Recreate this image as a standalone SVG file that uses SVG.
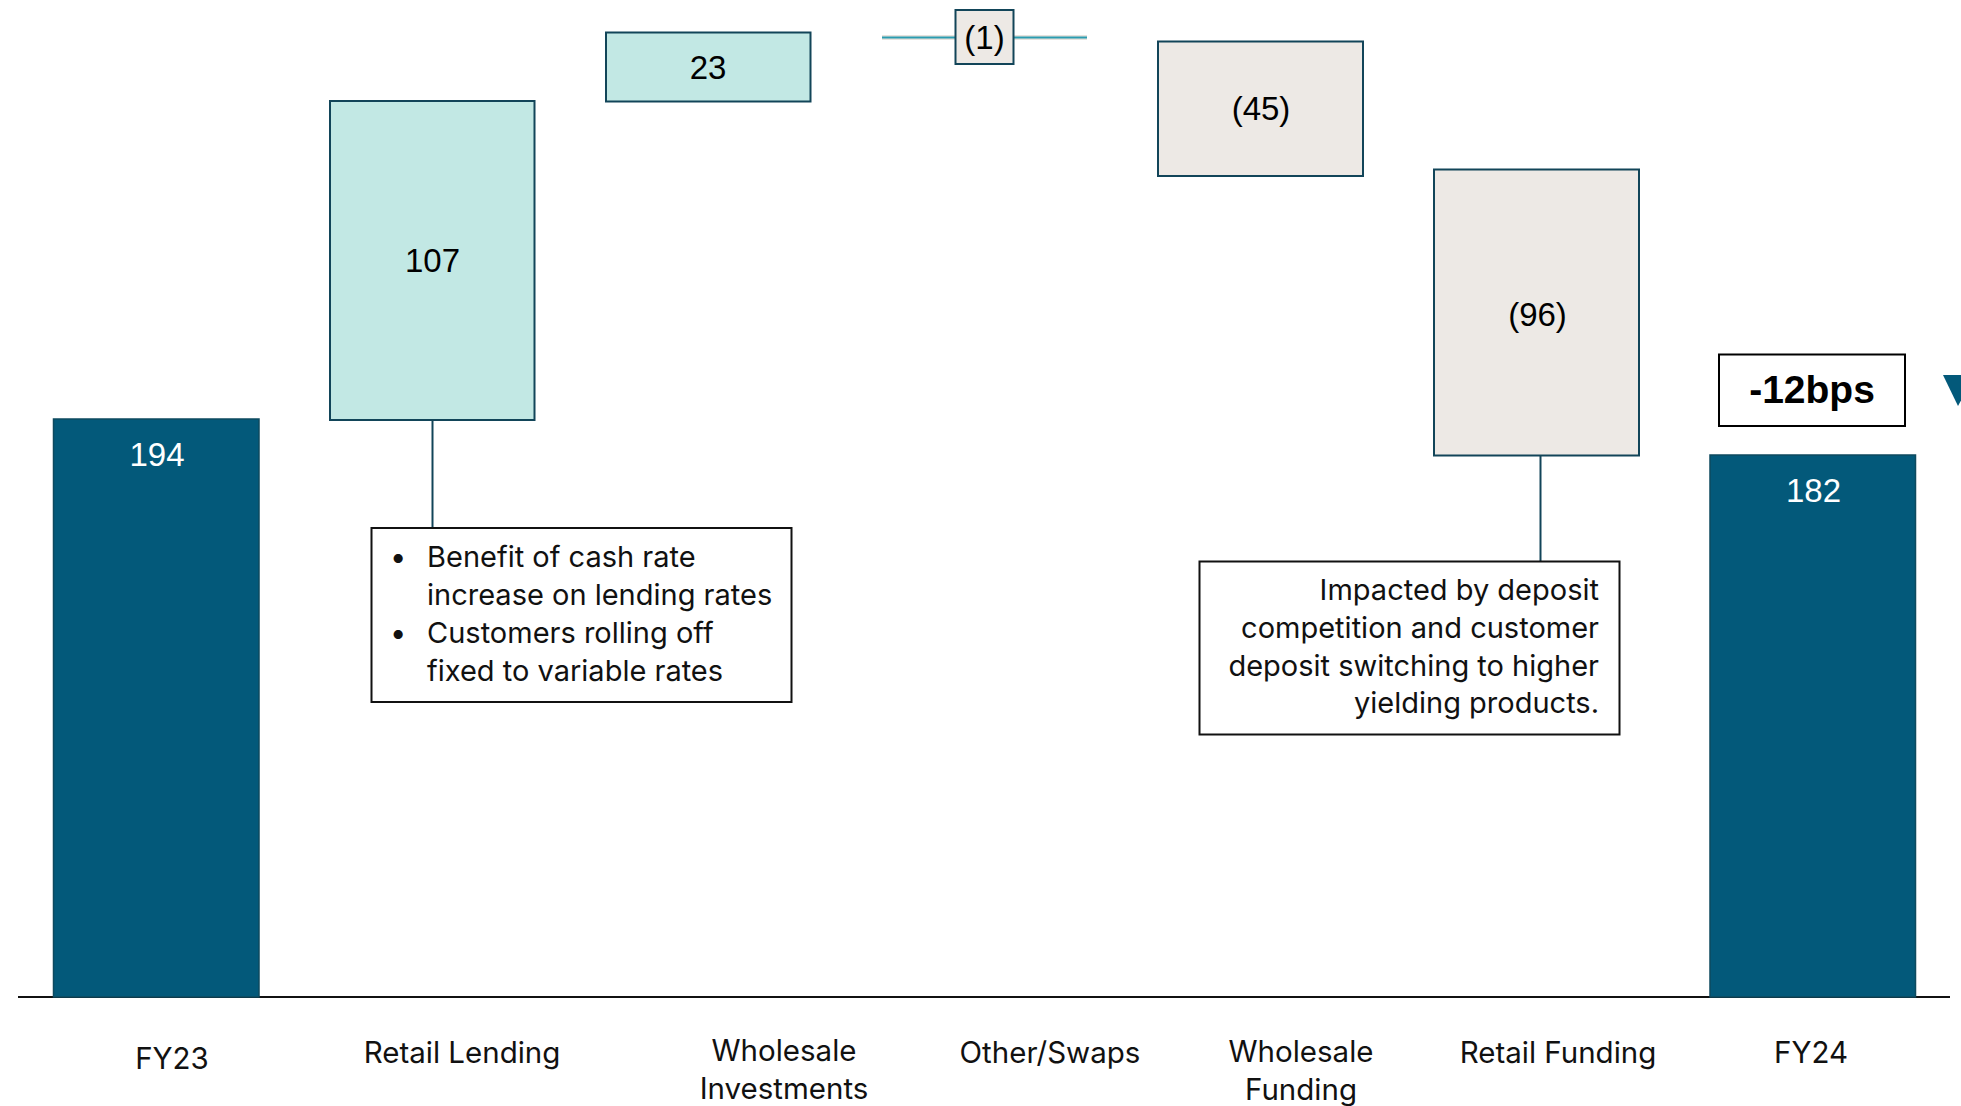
<svg xmlns="http://www.w3.org/2000/svg" width="1961" height="1106" viewBox="0 0 1961 1106">
  <style>
    .total { fill: #03597a; stroke: #0e4a5f; stroke-width: 1.5; }
    .up { fill: #c2e8e4; stroke: #124559; stroke-width: 2; }
    .down { fill: #ede9e5; stroke: #124559; stroke-width: 2; }
    .val { font-family: "Liberation Sans", Arial, sans-serif; font-size: 33px; fill: #000; text-anchor: middle; }
    .val-w { fill: #ffffff; }
    .note { fill: #ffffff; stroke: #111; stroke-width: 2; }
    .txt { font-family: Inter, "Open Sans", sans-serif; font-size: 29px; fill: #111; }
    .axis-lbl { font-family: Inter, "Open Sans", sans-serif; font-size: 29.5px; fill: #111; text-anchor: middle; }
    .lead { stroke: #124559; stroke-width: 2; fill: none; }
    .swap-halo { stroke: #e6e2dd; stroke-width: 5; fill: none; }
    .swap-line { stroke: #2b9cb0; stroke-width: 2; fill: none; }
    .badge { fill: #ffffff; stroke: #000; stroke-width: 2; }
    .badge-txt { font-family: "Liberation Sans", Arial, sans-serif; font-size: 39px; font-weight: bold; fill: #000; text-anchor: middle; }
  </style>

  <rect width="1961" height="1106" fill="#ffffff"/>

  <!-- connectors: leader lines, swap whiskers, baseline -->
  <g id="connectors">
    <line class="swap-halo" x1="882" y1="37.5" x2="956" y2="37.5"/>
    <line class="swap-line" x1="882" y1="37.5" x2="956" y2="37.5"/>
    <line class="swap-halo" x1="1013" y1="37.5" x2="1087" y2="37.5"/>
    <line class="swap-line" x1="1013" y1="37.5" x2="1087" y2="37.5"/>
    <line class="lead" x1="432.5" y1="420" x2="432.5" y2="528"/>
    <line class="lead" x1="1540.5" y1="452" x2="1540.5" y2="561"/>
    <line x1="18" y1="997" x2="1950" y2="997" stroke="#111" stroke-width="2"/>
  </g>

  <!-- starting total -->
  <g id="fy23">
    <rect class="total" x="53.5" y="419" width="205.5" height="578"/>
    <text class="val val-w" x="157" y="466">194</text>
  </g>

  <!-- positive movements -->
  <g id="retail-lending">
    <rect class="up" x="330" y="101" width="204.5" height="319"/>
    <text class="val" x="432.5" y="272">107</text>
  </g>
  <g id="wholesale-investments">
    <rect class="up" x="606" y="32.5" width="204.5" height="69"/>
    <text class="val" x="708" y="78.5">23</text>
  </g>

  <!-- negative movements -->
  <g id="other-swaps">
    <rect class="down" x="955.5" y="10" width="58" height="54"/>
    <text class="val" x="984.5" y="48.5">(1)</text>
  </g>
  <g id="wholesale-funding">
    <rect class="down" x="1158" y="41.5" width="205" height="134.5"/>
    <text class="val" x="1261" y="119.5">(45)</text>
  </g>
  <g id="retail-funding">
    <rect class="down" x="1434" y="169.5" width="205" height="286"/>
    <text class="val" x="1537.5" y="325.5">(96)</text>
  </g>

  <!-- closing total -->
  <g id="fy24">
    <rect class="total" x="1710" y="455" width="205.5" height="542"/>
    <text class="val val-w" x="1813.5" y="501.5">182</text>
  </g>

  <!-- change badge -->
  <g id="change-badge">
    <rect class="badge" x="1719" y="354.5" width="186" height="71.5"/>
    <text class="badge-txt" x="1812" y="403">-12bps</text>
    <polygon points="1943,375 1975,375 1958,406" fill="#03597a"/>
  </g>

  <!-- commentary boxes -->
  <g id="note-lending">
    <rect class="note" x="371.5" y="528" width="420" height="174"/>
    <text class="txt"><tspan x="390" y="567">•</tspan><tspan x="427" y="567">Benefit of cash rate</tspan><tspan x="427" y="605">increase on lending rates</tspan><tspan x="390" y="643">•</tspan><tspan x="427" y="643">Customers rolling off</tspan><tspan x="427" y="680.5">fixed to variable rates</tspan></text>
  </g>
  <g id="note-funding">
    <rect class="note" x="1199.5" y="561.5" width="420" height="173"/>
    <text class="txt" text-anchor="end"><tspan x="1599" y="599.5">Impacted by deposit</tspan><tspan x="1599" y="637.5">competition and customer</tspan><tspan x="1599" y="675.5">deposit switching to higher</tspan><tspan x="1599" y="713">yielding products.</tspan></text>
  </g>

  <!-- category labels -->
  <g id="axis-labels">
    <text class="axis-lbl" x="172" y="1069">FY23</text>
    <text class="axis-lbl" x="462" y="1063">Retail Lending</text>
    <text class="axis-lbl"><tspan x="784" y="1061">Wholesale</tspan><tspan x="784" y="1099">Investments</tspan></text>
    <text class="axis-lbl" x="1050" y="1063">Other/Swaps</text>
    <text class="axis-lbl"><tspan x="1301" y="1062">Wholesale</tspan><tspan x="1301" y="1100">Funding</tspan></text>
    <text class="axis-lbl" x="1558" y="1063">Retail Funding</text>
    <text class="axis-lbl" x="1811" y="1063">FY24</text>
  </g>
</svg>
